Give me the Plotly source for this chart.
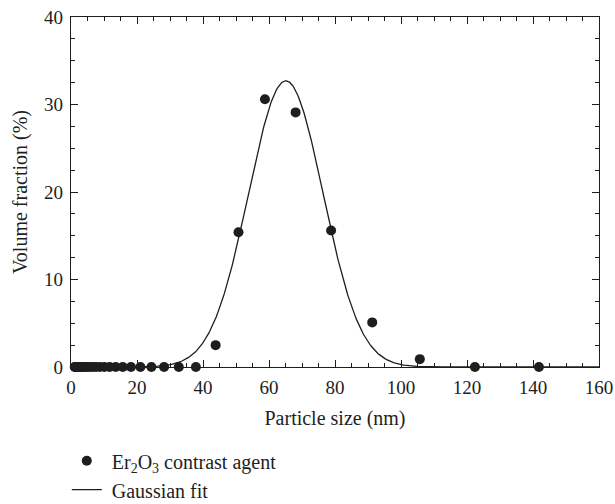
import numpy as np
import plotly.graph_objects as go

# Particle size bins (nm) and measured volume fraction (%)
particle_size = [1.117, 1.294, 1.499, 1.736, 2.01, 2.328, 2.696, 3.122, 3.615, 4.187,
                 4.849, 5.615, 6.503, 7.531, 8.721, 10.1, 11.7, 13.54, 15.69, 18.17,
                 21.04, 24.36, 28.21, 32.67, 37.84, 43.82, 50.75, 58.77, 68.06, 78.82,
                 91.28, 105.7, 122.4, 141.8]
volume_fraction = [0, 0, 0, 0, 0, 0, 0, 0, 0, 0,
                   0, 0, 0, 0, 0, 0, 0, 0, 0, 0,
                   0, 0, 0, 0, 0, 2.5, 15.4, 30.6, 29.1, 15.6,
                   5.1, 0.9, 0, 0]

# Gaussian fit parameters
fit_y0 = 0.0
fit_center = 65.1
fit_sigma = 11.3
fit_amplitude = 32.7
fit_x = np.linspace(0, 160, 641)
fit_y = fit_y0 + fit_amplitude * np.exp(-(fit_x - fit_center) ** 2 / (2 * fit_sigma ** 2))

x_ticks = [0, 20, 40, 60, 80, 100, 120, 140, 160]
y_ticks = [0, 10, 20, 30, 40]

FONT = "Liberation Serif"
INK = "#1e1e1e"
PAD = "\u00a0"

fig = go.Figure()
fig.add_trace(go.Scatter(
    x=particle_size, y=volume_fraction, mode="markers",
    name=PAD + "Er<sub>2</sub>O<sub>3</sub> contrast agent",
    marker=dict(size=10, color=INK),
    cliponaxis=False, legendgroup="a",
))
fig.add_trace(go.Scatter(
    x=fit_x, y=fit_y, mode="lines", name=PAD + "Gaussian fit",
    line=dict(color=INK, width=1.3), legendgroup="b",
))

axis_common = dict(
    showline=True, linecolor=INK, linewidth=1.3, mirror="ticks",
    ticks="inside", ticklen=7, tickwidth=1.2, tickcolor=INK,
    showgrid=False, zeroline=False, automargin=False,
    ticklabelstandoff=3,
    tickfont=dict(family=FONT, size=19, color=INK),
)

fig.update_xaxes(
    range=[0, 160], tickvals=x_ticks,
    title=dict(text="Particle size (nm)", font=dict(family=FONT, size=20, color=INK), standoff=14),
    minor=dict(dtick=5, ticks="inside", ticklen=4, tickcolor=INK, tickwidth=1.1),
    **axis_common,
)
fig.update_yaxes(
    range=[0, 40], tickvals=y_ticks,
    title=dict(text="Volume fraction (%)", font=dict(family=FONT, size=20, color=INK), standoff=11),
    minor=dict(dtick=2.5, ticks="inside", ticklen=4, tickcolor=INK, tickwidth=1.1),
    **axis_common,
)

fig.update_layout(
    width=615, height=504,
    margin=dict(l=71, r=16, t=17, b=137, autoexpand=False),
    paper_bgcolor="white", plot_bgcolor="white",
    font=dict(family=FONT, size=20, color=INK),
    showlegend=True,
    legend=dict(x=-0.008, y=-0.212, xanchor="left", yanchor="top",
                bgcolor="rgba(0,0,0,0)", tracegroupgap=0,
                font=dict(family=FONT, size=20, color=INK)),
)

fig.write_html("out.html", config={"displayModeBar": False},
               post_script="document.body.style.margin='0';document.body.style.overflow='hidden';")
